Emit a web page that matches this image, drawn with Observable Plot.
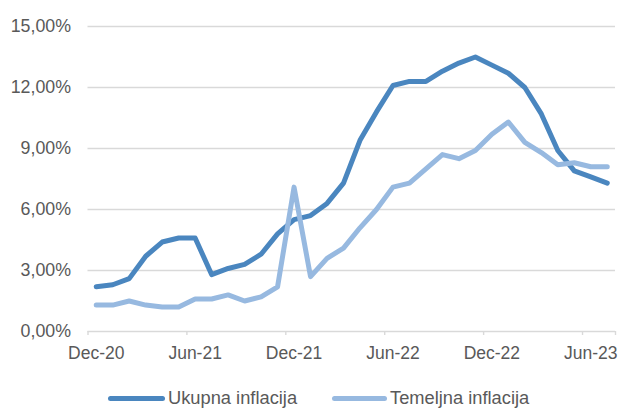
<!DOCTYPE html>
<html>
<head>
<meta charset="utf-8">
<script src="https://cdn.jsdelivr.net/npm/d3@7"></script>
<script src="https://cdn.jsdelivr.net/npm/@observablehq/plot@0.6"></script>
<style>
  html, body { margin: 0; padding: 0; background: #fff; }
  body { width: 622px; height: 408px; position: relative; overflow: hidden; font-family: "Liberation Sans", Arial, sans-serif; }
  #chart { position: absolute; left: 0; top: 0; }
  .legend { position: absolute; top: 388px; left: 0; width: 622px; height: 20px; font-size: 18.3px; color: #595959; }
  .item { position: absolute; top: 0; display: flex; align-items: center; height: 20px; line-height: 20px; }
  .swatch { display: inline-block; height: 5px; border-radius: 3px; margin-right: 3px; }
</style>
</head>
<body>
<div id="chart"></div>
<div class="legend" id="legend"></div>
<script>
const months = ["Dec-20","Jan-21","Feb-21","Mar-21","Apr-21","May-21","Jun-21","Jul-21","Aug-21","Sep-21","Oct-21","Nov-21",
  "Dec-21","Jan-22","Feb-22","Mar-22","Apr-22","May-22","Jun-22","Jul-22","Aug-22","Sep-22","Oct-22","Nov-22",
  "Dec-22","Jan-23","Feb-23","Mar-23","Apr-23","May-23","Jun-23","Jul-23"];
const ukupna = [2.2,2.3,2.6,3.7,4.4,4.6,4.6,2.8,3.1,3.3,3.8,4.8,5.5,5.7,6.3,7.3,9.4,10.8,12.1,12.3,12.3,12.8,13.2,13.5,13.1,12.7,12.0,10.7,8.9,7.9,7.6,7.3];
const temeljna = [1.3,1.3,1.5,1.3,1.2,1.2,1.6,1.6,1.8,1.5,1.7,2.2,7.1,2.7,3.6,4.1,5.1,6.0,7.1,7.3,8.0,8.7,8.5,8.9,9.7,10.3,9.3,8.8,8.2,8.3,8.1,8.1];
const seriesNames = ["Ukupna inflacija", "Temeljna inflacija"];
const yTicks = [0, 3, 6, 9, 12, 15];
const xLabelTicks = ["Dec-20","Jun-21","Dec-21","Jun-22","Dec-22","Jun-23"];

const colors = ["#4a86bf", "#97b9e0"];
const grid = "#d9d9d9";
const textColor = "#595959";

const dUk = months.map((m, i) => ({i, v: ukupna[i]}));
const dTe = months.map((m, i) => ({i, v: temeljna[i]}));
const labelIdx = xLabelTicks.map(l => months.indexOf(l));
const boundaries = labelIdx.map(i => i - 0.5).concat([months.length - 0.5]);

const fmt = d => d.toFixed(2).replace(".", ",") + "%";

const chart = Plot.plot({
  width: 622,
  height: 372,
  marginLeft: 87.5,
  marginRight: 7,
  marginTop: 26,
  marginBottom: 41,
  style: { fontFamily: "'Liberation Sans', Arial, sans-serif", fontSize: "17.5px", color: textColor, background: "#fff" },
  x: { type: "linear", domain: [-0.5, months.length - 0.5] },
  y: { domain: [0, 15] },
  marks: [
    Plot.ruleY(yTicks, { y: d => d, stroke: grid, strokeWidth: 1.4 }),
    Plot.axisY({ ticks: yTicks, tickFormat: fmt, tickSize: 0, tickPadding: 17, fill: textColor, fontSize: 17.8, label: null }),
    Plot.axisX({ ticks: boundaries, tickFormat: () => "", tickSize: 4, stroke: grid, strokeWidth: 1.4, label: null }),
    Plot.axisX({ ticks: labelIdx, tickFormat: i => months[i], tickSize: 0, tickPadding: 15, fill: textColor, fontSize: 17.5, label: null }),
    Plot.line(dUk, { x: "i", y: "v", stroke: colors[0], strokeWidth: 5, strokeLinejoin: "round", strokeLinecap: "round" }),
    Plot.line(dTe, { x: "i", y: "v", stroke: colors[1], strokeWidth: 5, strokeLinejoin: "round", strokeLinecap: "round" })
  ]
});
document.getElementById("chart").appendChild(chart);

const legend = document.getElementById("legend");
const pos = [{left: 108, w: 57}, {left: 332, w: 55}];
seriesNames.forEach((name, k) => {
  const item = document.createElement("div");
  item.className = "item";
  item.style.left = pos[k].left + "px";
  const sw = document.createElement("span");
  sw.className = "swatch";
  sw.style.width = pos[k].w + "px";
  sw.style.background = colors[k];
  const t = document.createElement("span");
  t.textContent = name;
  item.appendChild(sw);
  item.appendChild(t);
  legend.appendChild(item);
});
</script>
</body>
</html>
